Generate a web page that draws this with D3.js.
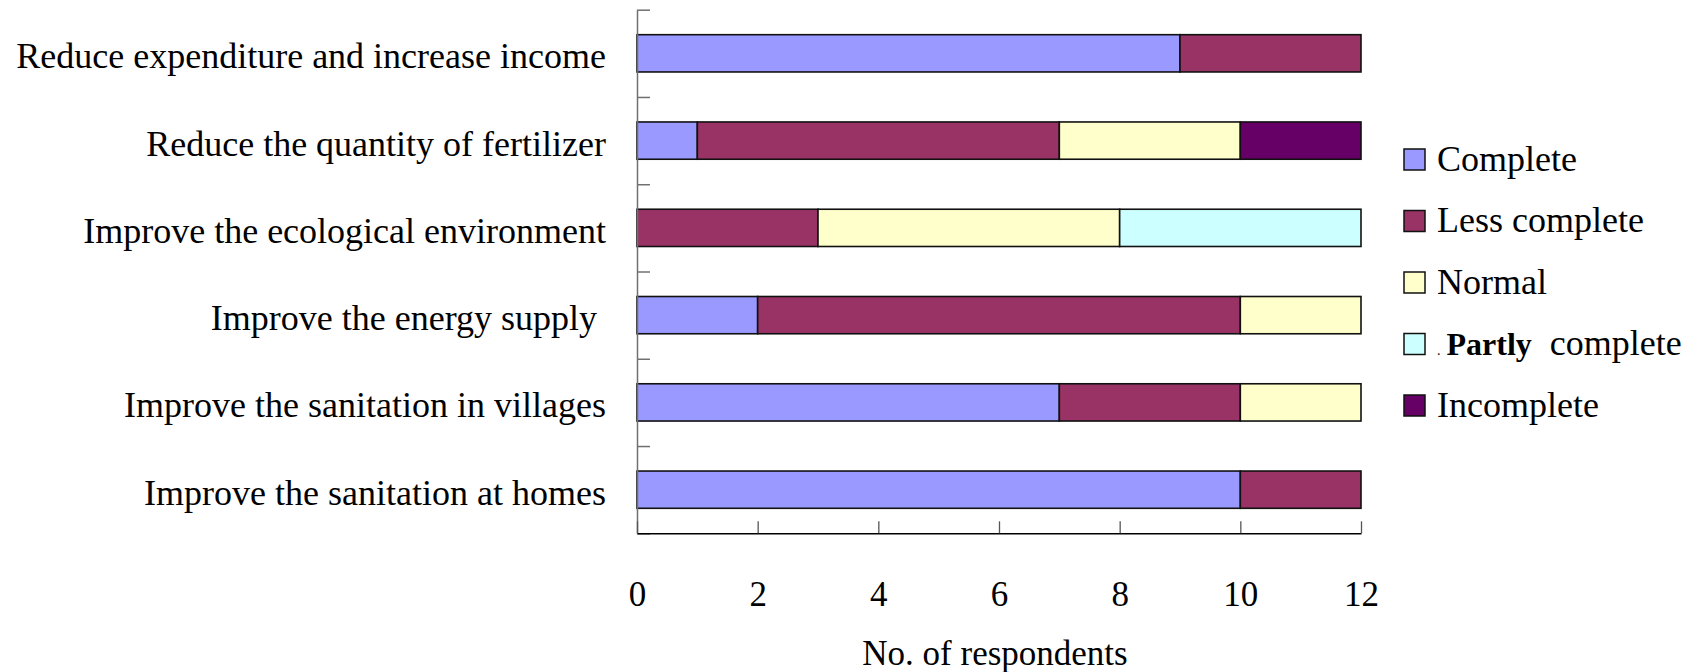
<!DOCTYPE html>
<html>
<head>
<meta charset="utf-8">
<script src="https://cdn.jsdelivr.net/npm/d3@7"></script>
<style>
  html, body { margin: 0; padding: 0; background: #fff; }
  svg { display: block; }
  text { font-family: "Liberation Serif", "Times New Roman", serif; fill: #000; white-space: pre; }
</style>
</head>
<body>
<svg id="chart" width="1691" height="672"></svg>
<script>
// Survey objectives, listed top to bottom
const categories = [
  "Reduce expenditure and increase income",
  "Reduce the quantity of fertilizer",
  "Improve the ecological environment",
  "Improve the energy supply ",
  "Improve the sanitation in villages",
  "Improve the sanitation at homes"
];

// Respondent counts per completion level
const seriesNames = ["Complete", "Less complete", "Normal", "Partly complete", "Incomplete"];
const complete       = [9, 1, 0, 2, 7, 10];
const lessComplete   = [3, 6, 3, 8, 3, 2];
const normal         = [0, 3, 5, 2, 2, 0];
const partlyComplete = [0, 0, 4, 0, 0, 0];
const incomplete     = [0, 2, 0, 0, 0, 0];

const seriesColors = ["#9999FF", "#993366", "#FFFFCC", "#CCFFFF", "#660066"];
const xTicks = [0, 2, 4, 6, 8, 10, 12];
const xTitle = "No. of respondents";

const rows = categories.map((c, i) => ({
  category: c,
  "Complete": complete[i],
  "Less complete": lessComplete[i],
  "Normal": normal[i],
  "Partly complete": partlyComplete[i],
  "Incomplete": incomplete[i]
}));

const svg = d3.select("#chart");
const plot = { left: 637, right: 1361, top: 9.7, bottom: 533.3 };

const x = d3.scaleLinear().domain([0, 12]).range([plot.left, plot.right]);
const y = d3.scaleBand()
  .domain(categories)
  .range([plot.top, plot.bottom])
  .paddingInner(0.573)
  .paddingOuter(0.2865);
const yEdges = d3.scaleLinear().domain([0, categories.length]).range([plot.top, plot.bottom]);
const color = d3.scaleOrdinal().domain(seriesNames).range(seriesColors);

const stacked = d3.stack().keys(seriesNames)(rows);

// Stacked bars
svg.append("g")
  .selectAll("g")
  .data(stacked)
  .join("g")
    .attr("fill", d => color(d.key))
  .selectAll("rect")
  .data(d => d.filter(s => s[1] - s[0] > 0))
  .join("rect")
    .attr("x", d => x(d[0]))
    .attr("y", d => y(d.data.category))
    .attr("width", d => x(d[1]) - x(d[0]))
    .attr("height", y.bandwidth())
    .attr("stroke", "#111")
    .attr("stroke-width", 1.6);

// Vertical axis with inward ticks at category boundaries
const yAxis = svg.append("g")
  .attr("transform", `translate(${plot.left},0)`)
  .call(d3.axisLeft(yEdges)
    .tickValues(d3.range(0, categories.length + 1))
    .tickSizeInner(-13)
    .tickSizeOuter(0)
    .tickFormat(""));
yAxis.selectAll("path, line").attr("stroke", "#707070").attr("stroke-width", 1.5);

// Category labels
svg.append("g")
  .selectAll("text")
  .data(categories)
  .join("text")
    .attr("x", plot.left - 31)
    .attr("y", d => y(d) + y.bandwidth() / 2 + 15)
    .attr("text-anchor", "end")
    .attr("font-size", 36)
    .text(d => d);

// Horizontal axis with inward ticks
const xAxis = svg.append("g")
  .attr("transform", `translate(0,${plot.bottom})`)
  .call(d3.axisBottom(x)
    .tickValues(xTicks)
    .tickSizeInner(-12)
    .tickSizeOuter(0)
    .tickFormat(d3.format("d")));
xAxis.select(".domain").attr("stroke", "#000").attr("stroke-width", 1.5);
xAxis.selectAll(".tick line").attr("stroke", "#555").attr("stroke-width", 1.3);
xAxis.selectAll(".tick text")
  .attr("y", 606 - plot.bottom)
  .attr("dy", null)
  .attr("font-size", 35)
  .attr("font-family", "Liberation Serif, Times New Roman, serif")
  .attr("fill", "#000");

// Axis title
svg.append("text")
  .attr("x", (plot.left + plot.right) / 2 - 4)
  .attr("y", 665)
  .attr("text-anchor", "middle")
  .attr("font-size", 35)
  .text(xTitle);

// Legend
const legend = svg.append("g");
const legendItems = legend.selectAll("g")
  .data(seriesNames)
  .join("g")
    .attr("transform", (d, i) => `translate(1404,${159.5 + i * 61.5})`);

legendItems.append("rect")
  .attr("x", 0)
  .attr("y", -10.5)
  .attr("width", 21)
  .attr("height", 21)
  .attr("fill", d => color(d))
  .attr("stroke", "#111")
  .attr("stroke-width", 1.5);

legendItems.append("text")
  .attr("x", 33)
  .attr("y", 11)
  .attr("font-size", 36)
  .each(function(d) {
    const t = d3.select(this);
    if (d === "Partly complete") {
      t.append("tspan").attr("font-size", 14).text(".");
      t.append("tspan").attr("dx", 6).attr("font-size", 32).attr("font-weight", "bold").text("Partly");
      t.append("tspan").text("  complete");
    } else {
      t.text(d);
    }
  });
</script>
</body>
</html>
